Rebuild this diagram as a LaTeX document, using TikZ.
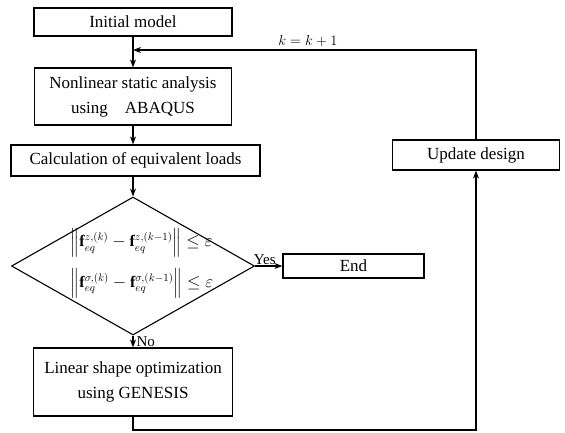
\documentclass[tikz,border=0pt]{standalone}
\usepackage{amsmath,amssymb}
\usepackage{fontspec}
\setmainfont{Liberation Serif}
\usepackage{tikz}
\usetikzlibrary{shapes.geometric,arrows.meta,positioning}
\tikzset
{
    procbox/.style  = {rectangle, draw=black, line width=1.2pt, fill=white, align=center, inner sep=0pt, font=\fontsize{17}{25}\selectfont},
    decision/.style = {diamond, draw=black, line width=1.1pt, inner sep=0pt, minimum width=243pt, minimum height=138pt},
    flowlabel/.style = {font=\fontsize{15}{17}\selectfont, inner sep=1pt}
}

\begin{document}
\begin{tikzpicture}[->,>={Stealth[length=8pt,width=6pt]}, x=1pt, y=-1pt, line width=1.2pt]
    \useasboundingbox (0,0) rectangle (565,432);
    \node [procbox, minimum width=198pt, minimum height=28pt] (init) at (133,22) {Initial model};
    \node [procbox, minimum width=197pt, minimum height=57pt] (nonlin) at (133,96.5) {Nonlinear static analysis \\ using\quad ABAQUS};
    \node [procbox, minimum width=249pt, minimum height=31pt] (calc) at (135.5,160.5) {Calculation of equivalent loads};
    \node [decision] (check) at (133,266) {};
    \node [inner sep=0pt, font=\fontsize{16}{20}\selectfont] (crit) at (142,263)
    {
        $\begin{array}{@{}l@{}}
        \left\| \mathbf{f}_{eq}^{z,(k)} - \mathbf{f}_{eq}^{z,(k-1)} \right\| \le \varepsilon \\[16pt]
        \left\| \mathbf{f}_{eq}^{\sigma,(k)} - \mathbf{f}_{eq}^{\sigma,(k-1)} \right\| \le \varepsilon
        \end{array}$
    };
    \node [procbox, minimum width=141pt, minimum height=24pt] (end) at (353.5,266) {End};
    \node [procbox, minimum width=199pt, minimum height=68pt] (linopt) at (133,382) {Linear shape optimization \\ using GENESIS};
    \node [procbox, minimum width=167pt, minimum height=30pt] (update) at (476,155) {Update design};

    % loop corners
    \coordinate (botL)  at (linopt.south |- 0,430);
    \coordinate (botR)  at (update.south |- 0,430);
    \coordinate (loopR) at (update.north |- 0,50);
    \coordinate (loopL) at (init.south |- 0,50);

    \draw (init) -- (nonlin);
    \draw (nonlin) -- (nonlin.south |- calc.north);
    \draw (calc.south -| check.north) -- (check.north);
    \draw (check.east) -- node [flowlabel, above, xshift=-4pt] (yes) {Yes} (end.west);
    \draw (check.south) -- node [flowlabel, right, xshift=2pt] (no) {No} (linopt.north);
    \draw (linopt.south) -- (botL) -- (botR) -- (update.south);
    \draw (update.north) -- (loopR) -- node [flowlabel, above, pos=0.49, yshift=2pt] (incr) {$k = k+1$} (loopL);
\end{tikzpicture}
\end{document}
